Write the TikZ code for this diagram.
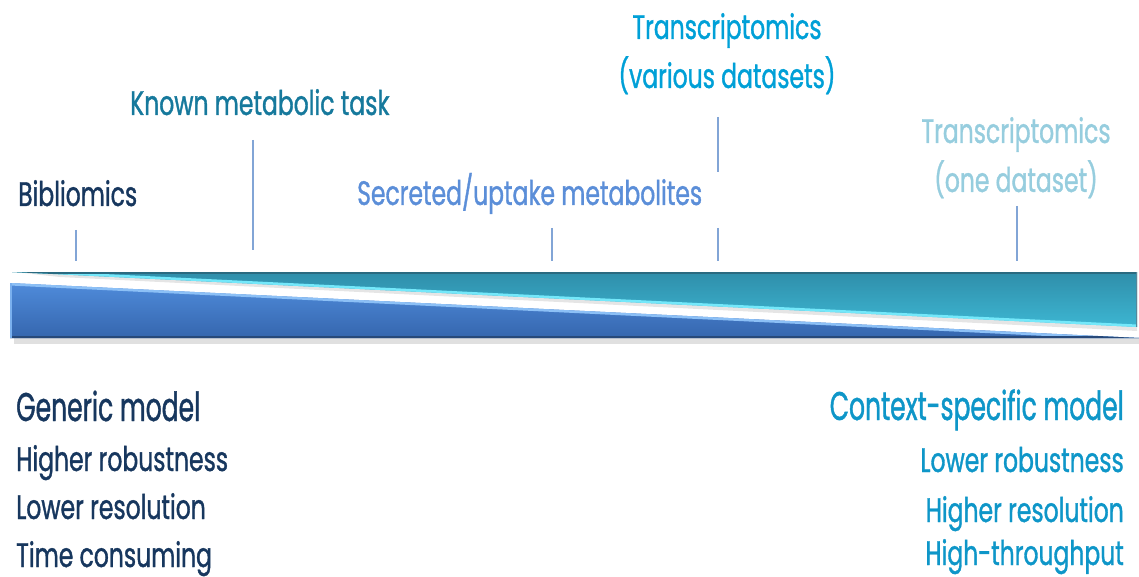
\documentclass[tikz,border=0pt]{standalone}
\usepackage{fontspec}
\setmainfont[FakeStretch=0.69,FakeBold=1]{Poppins}
\newfontfamily\bigface[FakeStretch=0.625,FakeBold=1]{Poppins}
\definecolor{navy}{HTML}{17375E}
\definecolor{tealtxt}{HTML}{16799C}
\definecolor{cornflower}{HTML}{5B8ED8}
\definecolor{brightblue}{HTML}{00A0D7}
\definecolor{paleblue}{HTML}{96CDDE}
\definecolor{rightblue}{HTML}{0E96C8}
\definecolor{tickblue}{HTML}{82A5D6}
\definecolor{tealtop}{HTML}{2F8EAA}
\definecolor{tealbot}{HTML}{3DB6D2}
\definecolor{tealhl}{HTML}{74E8FA}
\definecolor{tealdk}{HTML}{2A6A80}
\definecolor{bluetop}{HTML}{4F8BDA}
\definecolor{bluebot}{HTML}{3566AE}
\definecolor{bluehl}{HTML}{8CC0F6}
\definecolor{bluedk}{HTML}{27497A}
\begin{document}
\begin{tikzpicture}[x=1pt,y=1pt,
  tick/.style={draw=tickblue, line width=1.5pt},
  lbl/.style={inner sep=0pt, font=\fontsize{34}{49}\selectfont},
  biglbl/.style={inner sep=0pt, font=\bigface\fontsize{40}{48}\selectfont},
]
\useasboundingbox (0,-577) rectangle (1139,0);

% soft shadows under the two wedges
\fill[black, opacity=0.12] (14,-338) -- (1139,-338) -- (1139,-344) -- (14,-344) -- cycle;
\fill[black, opacity=0.10] (14,-272) -- (1137,-327) -- (1137,-331) -- (60,-277) -- cycle;

% upper wedge, widening to the right
\begin{scope}
  \clip (12,-272) -- (1137,-272) -- (1137,-327) -- cycle;
  \shade[top color=tealtop, bottom color=tealbot] (12,-272) rectangle (1137,-327);
  \draw[tealhl, line width=5pt] (12,-272) -- (1137,-327);
  \draw[tealdk, line width=3pt] (12,-272) -- (1137,-272);
  \draw[tealdk!80, line width=3pt] (1137,-272) -- (1137,-327);
\end{scope}

% lower wedge, narrowing to the right
\begin{scope}
  \clip (10,-283) -- (1139,-338) -- (10,-338) -- cycle;
  \shade[top color=bluetop, bottom color=bluebot] (10,-283) rectangle (1139,-338);
  \draw[bluehl, line width=5pt] (10,-283) -- (1139,-338);
  \draw[bluedk, line width=4pt] (10,-338) -- (1139,-338);
  \draw[bluehl!70!bluetop, line width=3pt] (10,-283) -- (10,-338);
\end{scope}

% tick marks
\coordinate (t1a) at (76,-230);  \coordinate (t1b) at (76,-261);
\coordinate (t2a) at (253,-140); \coordinate (t2b) at (253,-250);
\coordinate (t3a) at (552,-228); \coordinate (t3b) at (552,-261);
\coordinate (t4a) at (718,-117); \coordinate (t4b) at (718,-172);
\coordinate (t5a) at (718,-228); \coordinate (t5b) at (718,-261);
\coordinate (t6a) at (1017,-206); \coordinate (t6b) at (1017,-261);
\draw[tick] (t1a) -- (t1b);
\draw[tick] (t2a) -- (t2b);
\draw[tick] (t3a) -- (t3b);
\draw[tick] (t4a) -- (t4b);
\draw[tick] (t5a) -- (t5b);
\draw[tick] (t6a) -- (t6b);

% labels above the wedges
\node[lbl, text=navy, anchor=base west] (biblio) at (18,-206) {Bibliomics};
\node[lbl, text=tealtxt, anchor=base west] (known) at (130,-115) {Known metabolic task};
\node[lbl, text=cornflower, anchor=base west] (secr) at (357,-205) {Secreted/uptake metabolites};
\node[lbl, text=brightblue, anchor=base, align=center] (trvar) at (727,-88) {Transcriptomics\\(various datasets)};
\node[lbl, text=paleblue, anchor=base, align=center] (trone) at (1016,-192) {Transcriptomics\\(one dataset)};

% properties of the generic end
\node[biglbl, text=navy, anchor=base west] (gen) at (16,-421) {Generic model};
\node[lbl, text=navy, anchor=base west] (gen1) at (16,-471) {Higher robustness};
\node[lbl, text=navy, anchor=base west] (gen2) at (16,-519) {Lower resolution};
\node[lbl, text=navy, anchor=base west] (gen3) at (16,-567) {Time consuming};

% properties of the context-specific end
\node[biglbl, text=rightblue, anchor=base east] (ctx) at (1124,-420) {Context-specific model};
\node[lbl, text=rightblue, anchor=base east] (ctx1) at (1124,-472) {Lower robustness};
\node[lbl, text=rightblue, anchor=base east] (ctx2) at (1124,-522) {Higher resolution};
\node[lbl, text=rightblue, anchor=base east] (ctx3) at (1124,-565) {High-throughput};
\end{tikzpicture}
\end{document}
